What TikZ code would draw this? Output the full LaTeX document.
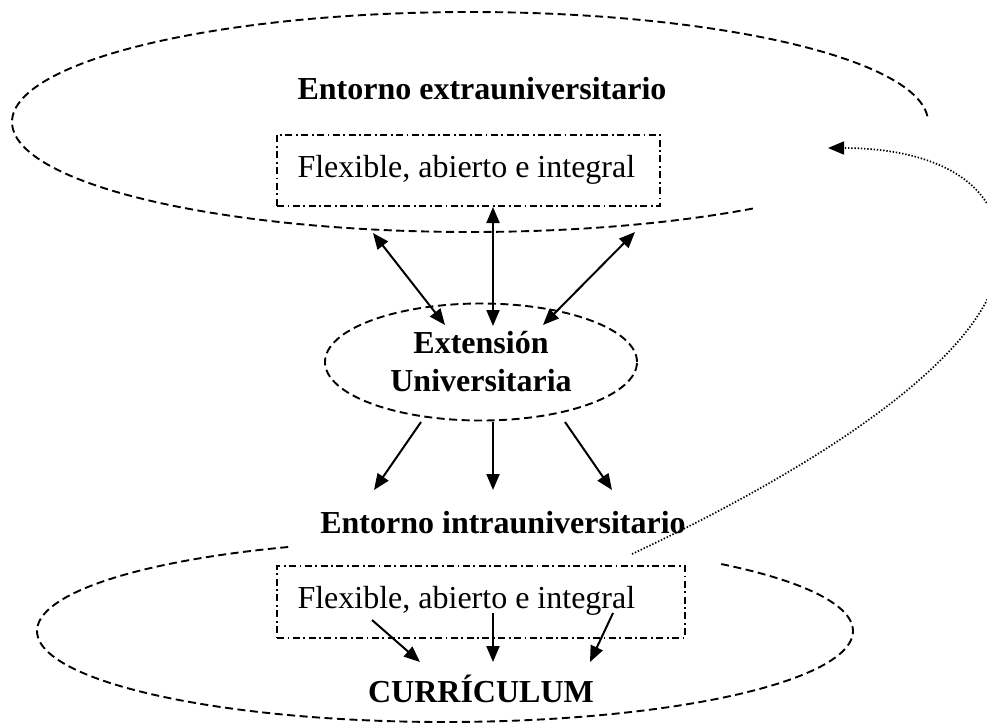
\documentclass[tikz,border=0pt]{standalone}
\usepackage{fontspec}
\setmainfont{Liberation Serif}
\usetikzlibrary{arrows.meta,shapes.geometric}
\begin{document}
\begin{tikzpicture}[x=1pt,y=-1pt,
  every node/.style={inner sep=0pt, outer sep=0pt},
  titletext/.style={font=\fontsize{32}{36}\selectfont\bfseries, anchor=base},
  dashline/.style={line width=1.9pt, dash pattern=on 8pt off 4.5pt},
  flexbox/.style={draw, line width=1.8pt,
    dash pattern=on 7pt off 3.5pt on 1.8pt off 3.5pt,
    font=\fontsize{32}{36}\selectfont, inner xsep=20.5pt,
    text height=22pt, text depth=9pt},
  link/.style={line width=2pt, -{Triangle[length=16pt,width=13pt]}},
  bilink/.style={line width=2pt,
    {Triangle[length=16pt,width=13pt]}-{Triangle[length=16pt,width=13pt]}},
  feedback/.style={line width=1.7pt, dash pattern=on 1.4pt off 1.8pt,
    -{Triangle[length=16pt,width=13pt]}}
]
\useasboundingbox (0,0) rectangle (987,724);
\clip (0,0) rectangle (987,724);

% outer environment: open dashed ellipse
\draw[dashline] plot[domain=3:308.8, samples=200, smooth]
  ({470+458*cos(\x)}, {122-110*sin(\x)});

% inner environment: dashed ellipse open at the top
\draw[dashline] plot[domain=112.6:408.2, samples=200, smooth]
  ({445+408*cos(\x)}, {631-91*sin(\x)});

% titles
\begin{scope}
  \clip (200,40) rectangle (760,99.6);
  \node[titletext] (extra) at (482,99) {Entorno extrauniversitario};
\end{scope}
\node[titletext] (intra) at (503,533) {Entorno intrauniversitario};
\node[titletext] (curr) at (481,702) {CURRÍCULUM};

% dash-dot boxes
\node[flexbox, minimum width=383pt, minimum height=71pt]
  (flextop) at (468.5,170.5) {\makebox[342pt][l]{Flexible, abierto e integral}};
\node[flexbox, minimum width=408pt, minimum height=72pt]
  (flexbot) at (481,602) {\makebox[367pt][l]{Flexible, abierto e integral}};

% central ellipse
\node[draw, ellipse, dashline, minimum width=312pt, minimum height=117pt,
  align=center, font=\fontsize{32}{38}\selectfont\bfseries]
  (ext) at (481,362) {Extensión\\Universitaria};

% ends of the connectors
\coordinate (ua) at (373,233);  \coordinate (ub) at (445,325);
\coordinate (va) at (493,207);  \coordinate (vb) at (493,326);
\coordinate (wa) at (635,232);  \coordinate (wb) at (543,325);
\coordinate (da) at (421,422);  \coordinate (db) at (374,490);
\coordinate (ea) at (493,422);  \coordinate (eb) at (493,490);
\coordinate (fa) at (565,422);  \coordinate (fb) at (612,490);
\coordinate (ga) at (372,620);  \coordinate (gb) at (420,662);
\coordinate (ha) at (493,613);  \coordinate (hb) at (493,662);
\coordinate (ka) at (613,613);  \coordinate (kb) at (590,662);

% exchange with the outer environment
\draw[bilink] (ua) -- (ub);
\draw[bilink] (va) -- (vb);
\draw[bilink] (wa) -- (wb);

% towards the inner environment
\draw[link] (da) -- (db);
\draw[link] (ea) -- (eb);
\draw[link] (fa) -- (fb);

% into the curriculum
\draw[link] (ga) -- (gb);
\draw[link] (ha) -- (hb);
\draw[link] (ka) -- (kb);

% feedback loop
\coordinate (fbs) at (632,554);
\coordinate (fbm) at (1000,252);
\coordinate (fbe) at (828,148);
\draw[feedback] (fbs) .. controls (813,469) and (1000,352) .. (fbm)
  .. controls (1000,172) and (918,148) .. (fbe);
\end{tikzpicture}
\end{document}
